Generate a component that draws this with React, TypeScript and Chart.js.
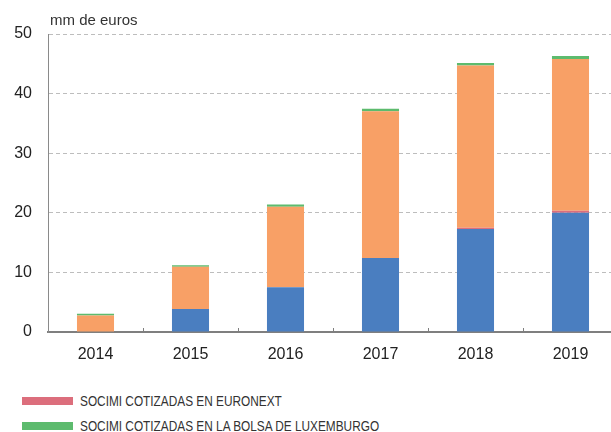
import React, { useEffect, useRef } from "react";
import { Chart, registerables } from "chart.js";

Chart.register(...registerables);

const years = ["2014", "2015", "2016", "2017", "2018", "2019"];
const bmeValues = [0, 3.85, 7.5, 12.4, 17.3, 20.0];
const euronextValues = [0, 0, 0, 0, 0.2, 0.35];
const mabValues = [2.75, 7.1, 13.5, 24.65, 27.2, 25.45];
const luxValues = [0.3, 0.25, 0.4, 0.4, 0.45, 0.5];
const yTicks = [0, 10, 20, 30, 40, 50];
const unitLabel = "mm de euros";

const BLUE = "#4a7ec0";
const RED = "#dc6e7c";
const ORANGE = "#f8a066";
const GREEN = "#5dbb6e";

const legendItems = [
  { label: "SOCIMI COTIZADAS EN EURONEXT", color: RED },
  { label: "SOCIMI COTIZADAS EN LA BOLSA DE LUXEMBURGO", color: GREEN },
];

const FONT = "'Liberation Sans', Arial, sans-serif";

export default function App() {
  const ref = useRef<HTMLCanvasElement | null>(null);

  useEffect(() => {
    if (!ref.current) return;
    const extras = {
      id: "extras",
      afterDraw(chart: any) {
        const ctx = chart.ctx;
        const xs = chart.scales.x;
        const area = chart.chartArea;
        ctx.save();
        ctx.strokeStyle = "#7f7f7f";
        ctx.lineWidth = 1;
        for (let i = 1; i < years.length; i++) {
          const x = Math.round((xs.getPixelForValue(i - 1) + xs.getPixelForValue(i)) / 2) + 0.5;
          ctx.beginPath();
          ctx.moveTo(x, area.bottom);
          ctx.lineTo(x, area.bottom - 4);
          ctx.stroke();
        }
        ctx.fillStyle = "#333";
        ctx.font = `15px ${FONT}`;
        ctx.textAlign = "left";
        ctx.textBaseline = "alphabetic";
        ctx.fillText(unitLabel, area.left + 2, 25);
        ctx.restore();
      },
    };
    const ds = (label: string, data: number[], color: string) => ({
      label,
      data,
      backgroundColor: color,
      borderWidth: 0,
      categoryPercentage: 1,
      barPercentage: 0.39,
    });
    const chart = new Chart(ref.current, {
      type: "bar",
      data: {
        labels: years,
        datasets: [
          ds("SOCIMI COTIZADAS EN EL MERCADO CONTINUO", bmeValues, BLUE),
          ds(legendItems[0].label, euronextValues, RED),
          ds("SOCIMI COTIZADAS EN EL MAB", mabValues, ORANGE),
          ds(legendItems[1].label, luxValues, GREEN),
        ],
      },
      options: {
        responsive: false,
        animation: false,
        devicePixelRatio: 1,
        layout: { padding: { top: 34, left: 0, right: 0, bottom: 0 } },
        plugins: { legend: { display: false }, tooltip: { enabled: false } },
        scales: {
          x: {
            stacked: true,
            grid: { display: false, drawTicks: false },
            border: { display: true, color: "#7f7f7f", width: 2 },
            ticks: { color: "#222", font: { family: FONT, size: 16 }, padding: 13 },
            afterFit: (s: any) => {
              s.height = 40;
            },
          },
          y: {
            stacked: true,
            min: 0,
            max: 50,
            afterBuildTicks: (s: any) => {
              s.ticks = yTicks.map((v) => ({ value: v }));
            },
            grid: { color: "#bdbdbd", lineWidth: 1, drawTicks: false },
            border: { display: true, color: "#8a8a8a", width: 1, dash: [4, 3] },
            ticks: { color: "#222", font: { family: FONT, size: 16 }, padding: 16 },
            afterFit: (s: any) => {
              s.width = 48;
            },
          },
        },
      },
      plugins: [extras],
    });
    return () => chart.destroy();
  }, []);

  return (
    <div
      style={{
        position: "fixed",
        left: 0,
        top: 0,
        width: 611,
        height: 432,
        overflow: "hidden",
        background: "#fff",
      }}
    >
      <canvas ref={ref} width={618} height={372} style={{ display: "block", width: 618, height: 372 }} />
      <div style={{ position: "absolute", left: 22, top: 388 }}>
        {legendItems.map((it) => (
          <div key={it.label} style={{ position: "relative", height: 25 }}>
            <span
              style={{
                position: "absolute",
                left: 0,
                top: 9,
                width: 51,
                height: 8,
                background: it.color,
              }}
            />
            <span
              style={{
                position: "absolute",
                left: 58,
                top: 4,
                fontFamily: FONT,
                fontSize: 14,
                lineHeight: "18px",
                color: "#333",
                whiteSpace: "nowrap",
                display: "inline-block",
                transform: "scaleX(0.845)",
                transformOrigin: "left center",
              }}
            >
              {it.label}
            </span>
          </div>
        ))}
      </div>
    </div>
  );
}
